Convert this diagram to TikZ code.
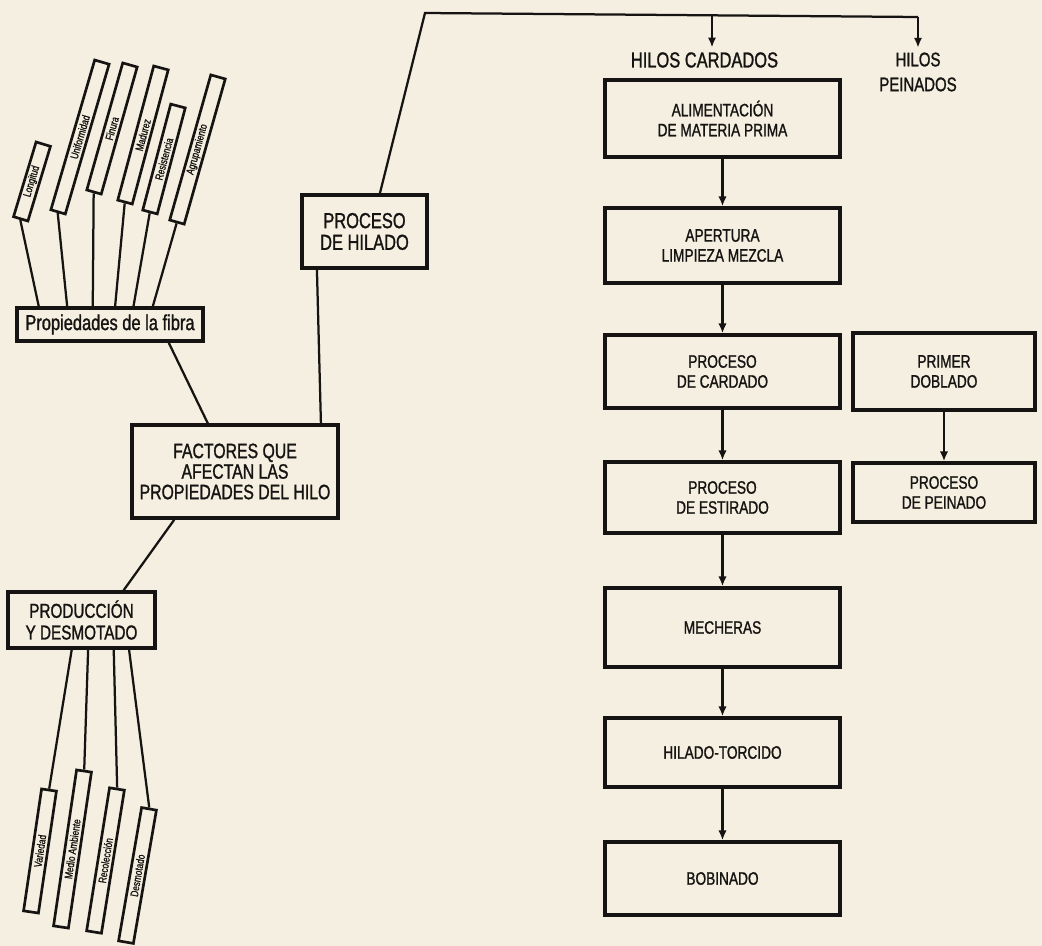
\documentclass[tikz,border=0pt]{standalone}
\usepackage{fontspec}
\setmainfont{Liberation Sans}[FakeStretch=0.76, FakeBold=1.2]
\usetikzlibrary{arrows.meta,calc}
\definecolor{paper}{RGB}{244,239,224}
\definecolor{ink}{RGB}{22,20,18}

\begin{document}
\begin{tikzpicture}[
        x=0.025cm, y=-0.025cm,
        box/.style={draw=ink, text=ink, line width=2.5pt, align=center, inner sep=0pt}, % Box styling
        stage/.style={box, minimum width=5.875cm, font=\fontsize{12.8}{14.2}\selectfont}, % Process steps
        leaf/.style={draw=ink, text=ink, line width=1.9pt, minimum height=0.375cm, inner sep=0pt, font=\fontsize{7.8}{8}\selectfont}, % Tilted tags
        label/.style={text=ink, align=center},
        link/.style={draw=ink, line width=1.6pt},
        flow/.style={link, -{Latex[length=7pt,width=6pt]}} % Arrow styling
        ]

        \fill[paper] (0,0) rectangle (1042,946);
        \useasboundingbox (0,0) rectangle (1042,946);

        % Define nodes
        \node (factores) [box, minimum width=5.15cm, minimum height=2.325cm, font=\fontsize{14.8}{14.6}\selectfont] at (235,471.5) {FACTORES QUE\\AFECTAN LAS\\PROPIEDADES DEL HILO};
        \node (fibra) [box, minimum width=4.65cm, minimum height=0.825cm, font=\fontsize{15.4}{16}\selectfont] at (110,324.5) {Propiedades de la fibra};
        \node (hilado) [box, minimum width=3.125cm, minimum height=1.825cm, font=\fontsize{15.4}{15.4}\selectfont] at (364.5,231.5) {PROCESO\\DE HILADO};
        \node (produccion) [box, minimum width=3.675cm, minimum height=1.4cm, font=\fontsize{14.3}{15.4}\selectfont] at (81.5,620) {PRODUCCIÓN\\Y DESMOTADO};

        % Fibre properties
        \node (longitud) [leaf, minimum width=1.95cm, rotate=73.2] at (32,181.5) {Longitud};
        \node (uniformidad) [leaf, minimum width=3.9cm, rotate=73.7] at (80,137) {Uniformidad};
        \node (finura) [leaf, minimum width=3.3cm, rotate=74.2] at (112,128.5) {Finura};
        \node (madurez) [leaf, minimum width=3.47cm, rotate=75] at (143,135) {Madurez};
        \node (resistencia) [leaf, minimum width=2.74cm, rotate=75.2] at (164,159) {Resistencia};
        \node (agrupamiento) [leaf, minimum width=3.77cm, rotate=74.2] at (197.5,149.5) {Agrupamiento};

        % Growing and ginning
        \node (variedad) [leaf, minimum width=3.08cm, rotate=81.6] at (40,851) {Variedad};
        \node (ambiente) [leaf, minimum width=3.94cm, rotate=81.6] at (72.5,849) {Medio Ambiente};
        \node (recoleccion) [leaf, minimum width=3.62cm, rotate=80.9] at (105.5,860.5) {Recolección};
        \node (desmotado) [leaf, minimum width=3.38cm, rotate=80.2] at (137.5,875.5) {Desmotado};

        % Carded yarn line
        \node (cardados) [label, font=\fontsize{15.4}{17}\selectfont] at (704.5,60) {HILOS CARDADOS};
        \node (alimentacion) [stage, minimum height=1.925cm] at (722.5,118.5) {ALIMENTACIÓN\\DE MATERIA PRIMA};
        \node (apertura) [stage, minimum height=1.875cm] at (722.5,245.5) {APERTURA\\LIMPIEZA MEZCLA};
        \node (cardado) [stage, minimum height=1.825cm] at (722.5,371.5) {PROCESO\\DE CARDADO};
        \node (estirado) [stage, minimum height=1.775cm] at (722.5,497.5) {PROCESO\\DE ESTIRADO};
        \node (mecheras) [stage, minimum height=1.975cm] at (722.5,627.5) {MECHERAS};
        \node (torcido) [stage, minimum height=1.725cm] at (722.5,752.5) {HILADO-TORCIDO};
        \node (bobinado) [stage, minimum height=1.825cm] at (722.5,878.5) {BOBINADO};

        % Combed yarn line
        \node (peinados) [label, font=\fontsize{14}{17.7}\selectfont] at (918,72) {HILOS\\PEINADOS};
        \node (doblado) [stage, minimum width=4.55cm, minimum height=1.925cm] at (944,371.5) {PRIMER\\DOBLADO};
        \node (peinado) [stage, minimum width=4.55cm, minimum height=1.475cm] at (944,492.5) {PROCESO\\DE PEINADO};

        \coordinate (corner) at (425,13);
        \coordinate (cornerR) at (918,17);
        \coordinate (split) at (712,15.3);

        % Draw links
        \draw[link] (longitud.west) -- ($(fibra.north west)!.124!(fibra.north east)$);
        \draw[link] (uniformidad.west) -- ($(fibra.north west)!.274!(fibra.north east)$);
        \draw[link] (finura.west) -- ($(fibra.north west)!.409!(fibra.north east)$);
        \draw[link] (madurez.west) -- ($(fibra.north west)!.527!(fibra.north east)$);
        \draw[link] (resistencia.west) -- ($(fibra.north west)!.624!(fibra.north east)$);
        \draw[link] (agrupamiento.west) -- ($(fibra.north west)!.726!(fibra.north east)$);

        \draw[link] (variedad.east) -- ($(produccion.south west)!.435!(produccion.south east)$);
        \draw[link] (ambiente.east) -- ($(produccion.south west)!.544!(produccion.south east)$);
        \draw[link] (recoleccion.east) -- ($(produccion.south west)!.714!(produccion.south east)$);
        \draw[link] (desmotado.east) -- ($(produccion.south west)!.816!(produccion.south east)$);

        \draw[link] ($(fibra.south west)!.81!(fibra.south east)$) -- ($(factores.north west)!.37!(factores.north east)$);
        \draw[link] ($(factores.north west)!.91!(factores.north east)$) -- ($(hilado.south west)!.13!(hilado.south east)$);
        \draw[link] ($(factores.south west)!.21!(factores.south east)$) -- ($(produccion.north west)!.78!(produccion.north east)$);

        \draw[link] ($(hilado.north west)!.62!(hilado.north east)$) -- (corner) -- (cornerR);
        \draw[flow] (cornerR) -- (peinados.north);
        \draw[flow] (split) -- (split |- cardados.north);

        % Draw arrows
        \draw[flow] (alimentacion) -- (apertura);
        \draw[flow] (apertura) -- (cardado);
        \draw[flow] (cardado) -- (estirado);
        \draw[flow] (estirado) -- (mecheras);
        \draw[flow] (mecheras) -- (torcido);
        \draw[flow] (torcido) -- (bobinado);
        \draw[flow] (doblado) -- (peinado);

    \end{tikzpicture}
\end{document}
